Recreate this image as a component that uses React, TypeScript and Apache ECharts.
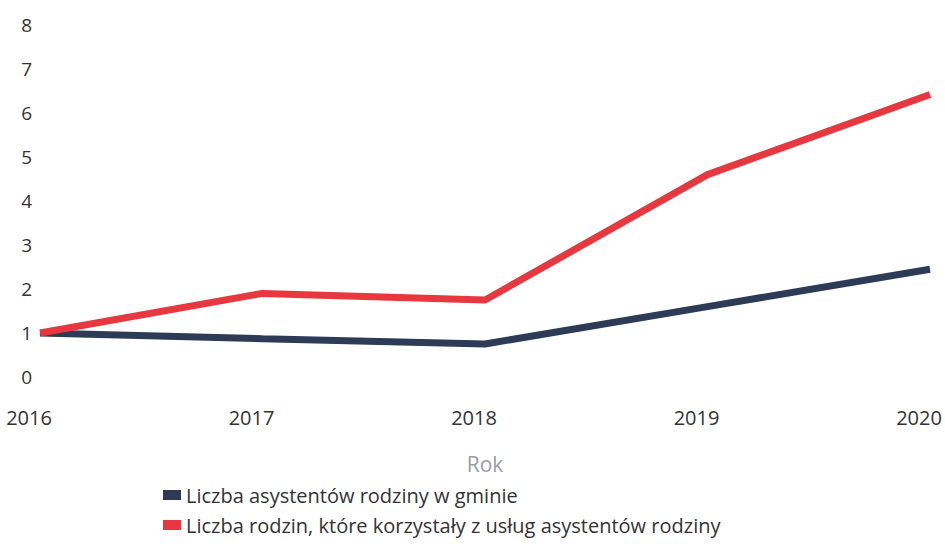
import React, { useEffect, useRef } from "react";
import * as echarts from "echarts";

const years = ["2016", "2017", "2018", "2019", "2020"];
const assistants = [1, 0.87, 0.75, 1.6, 2.45];
const families = [1, 1.9, 1.75, 4.6, 6.42];
const seriesNames = [
  "Liczba asystentów rodziny w gminie",
  "Liczba rodzin, które korzystały z usług asystentów rodziny",
];

export default function App() {
  const ref = useRef<HTMLDivElement>(null);
  useEffect(() => {
    const chart = echarts.init(ref.current!, null, { renderer: "svg" });
    chart.setOption({
      animation: false,
      textStyle: { fontFamily: "Open Sans" },
      grid: { left: 40, right: 15, top: 25, bottom: 167, outerBoundsMode: "none", containLabel: false },
      legend: {
        orient: "vertical",
        left: 158,
        top: 480,
        itemWidth: 18,
        itemHeight: 10,
        itemGap: 10,
        icon: "rect",
        textStyle: { fontSize: 20, color: "#333", fontFamily: "Open Sans" },
        data: seriesNames,
      },
      xAxis: {
        type: "category",
        data: years,
        boundaryGap: false,
        axisLine: { show: false },
        axisTick: { show: false },
        axisLabel: {
          fontSize: 20,
          color: "#333",
          margin: 30,
          fontFamily: "Open Sans",
          padding: [0, 22, 0, 0],
        },
        name: "Rok",
        nameLocation: "middle",
        nameGap: 76,
        nameTextStyle: { fontSize: 21, color: "#9a9ca6", fontFamily: "Open Sans" },
      },
      yAxis: {
        type: "value",
        min: 0,
        max: 8,
        interval: 1,
        splitLine: { show: false },
        axisLine: { show: false },
        axisTick: { show: false },
        axisLabel: { fontSize: 19, color: "#333", margin: 8, fontFamily: "Open Sans" },
      },
      series: [
        {
          name: seriesNames[0],
          type: "line",
          data: assistants,
          symbol: "none",
          lineStyle: { width: 7, color: "#2d3b57" },
          itemStyle: { color: "#2d3b57" },
        },
        {
          name: seriesNames[1],
          type: "line",
          data: families,
          symbol: "none",
          lineStyle: { width: 7, color: "#e8383f" },
          itemStyle: { color: "#e8383f" },
        },
      ],
    });
    return () => chart.dispose();
  }, []);
  return <div ref={ref} style={{ width: 945, height: 544, position: "absolute", left: 0, top: 0, background: "#fff" }} />;
}
